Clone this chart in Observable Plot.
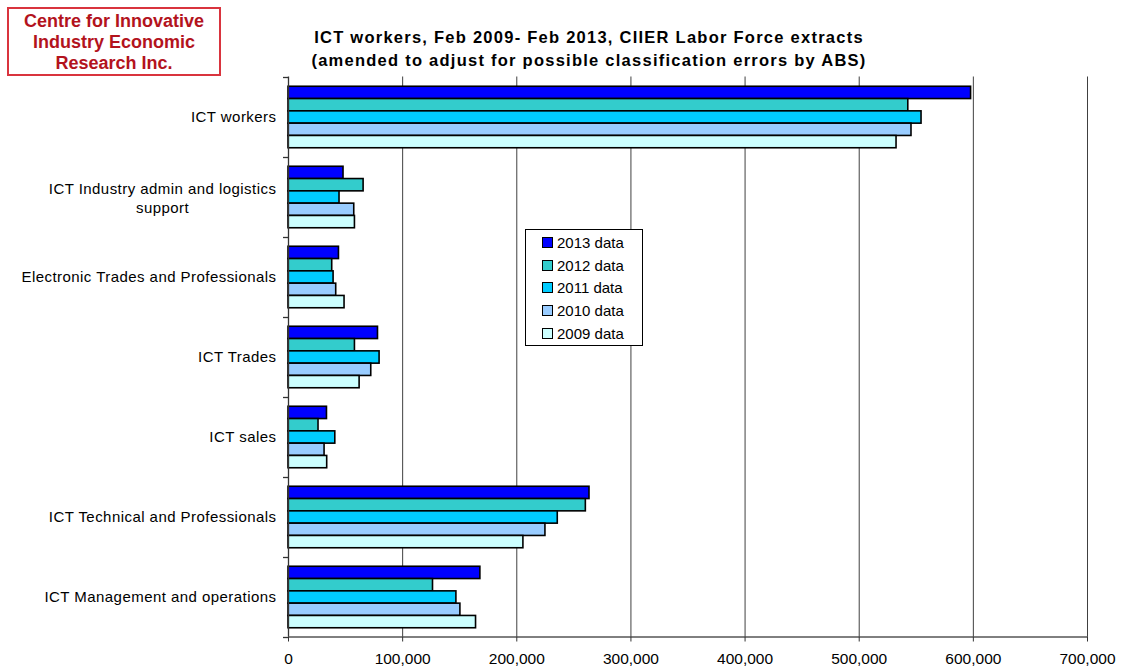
<!DOCTYPE html>
<html>
<head>
<meta charset="utf-8">
<script src="https://cdn.jsdelivr.net/npm/d3@7"></script>
<script src="https://cdn.jsdelivr.net/npm/@observablehq/plot@0.6"></script>
<style>
  html, body { margin: 0; padding: 0; background: #fff; }
  #wrap { position: relative; width: 1122px; height: 668px; font-family: "Liberation Sans", Arial, sans-serif; }
  #chart { position: absolute; left: 0; top: 0; }
  #logo { position: absolute; left: 7px; top: 7px; width: 210px; height: 63px; border: 2px solid #d9343e;
          background: #fff; color: #b3131d; font-weight: bold; font-size: 18px; line-height: 21px; text-align: center; padding-top: 2px; box-sizing: content-box; }
  #title { position: absolute; left: 589px; top: 26px; transform: translateX(-50%); white-space: nowrap;
           font-weight: bold; font-size: 16.5px; letter-spacing: 1.25px; line-height: 22.5px; text-align: center; color: #000; }
  #legend { position: absolute; left: 525px; top: 229px; width: 118px; height: 117px; border: 1px solid #000; background: #fff;
            font-size: 15px; box-sizing: border-box; padding-top: 1px; }
  .lrow { height: 22.7px; display: flex; align-items: center; padding-left: 16px; }
  .sw { width: 9px; height: 9px; border: 1px solid #000; margin-right: 4px; }
</style>
</head>
<body>
<div id="wrap">
  <div id="chart"></div>
  <div id="logo">Centre for Innovative<br>Industry Economic<br>Research Inc.</div>
  <div id="title">ICT workers, Feb 2009- Feb 2013, CIIER Labor Force extracts<br>(amended to adjust for possible classification errors by ABS)</div>
  <div id="legend"></div>
</div>
<script>
// ---- data ----
const categories = [
  "ICT workers",
  "ICT Industry admin and logistics support",
  "Electronic Trades and Professionals",
  "ICT Trades",
  "ICT sales",
  "ICT Technical and Professionals",
  "ICT Management and operations"
];
const series = ["2013 data", "2012 data", "2011 data", "2010 data", "2009 data"];
const seriesColors = ["#0000ff", "#33cccc", "#00ccff", "#99ccff", "#ccffff"];
const data2013 = [598000, 48200, 44200, 78400, 33700, 263700, 168100];
const data2012 = [543000, 65800, 38300, 58200, 26300, 260500, 126600];
const data2011 = [554600, 44700, 39500, 79800, 41000, 235900, 147100];
const data2010 = [545800, 57600, 41800, 72500, 31600, 225100, 150600];
const data2009 = [532700, 58200, 49100, 62300, 33900, 205800, 164300];
const xTicks = [0, 100000, 200000, 300000, 400000, 500000, 600000, 700000];
const wrappedLabels = {"ICT Industry admin and logistics support": ["ICT Industry admin and logistics", "support"]};

const seriesValues = [data2013, data2012, data2011, data2010, data2009];

// ---- layout ----
const W = 1122, H = 668;
const mL = 288, mR = 35, mT = 76.5, mB = 31.5;
const step = (H - mT - mB) / categories.length;
const barH = 12.3;
const pad = (step - barH * series.length) / 2;
const labelFont = 15;
const labelSpacing = 0.45;

// measure first line of wrapped label to center lines on each other
const ctx = document.createElement("canvas").getContext("2d");
ctx.font = `${labelFont}px "Liberation Sans", Arial, sans-serif`;

const marks = [];
// gridlines
marks.push(Plot.ruleX(xTicks.slice(1), {stroke: "#404040", strokeWidth: 1}));
// bars
series.forEach((s, i) => {
  const rows = categories.map((c, j) => ({category: c, series: s, value: seriesValues[i][j]}));
  marks.push(Plot.barX(rows, {
    x: "value", y: "category",
    fill: seriesColors[i], stroke: "#000", strokeWidth: 1.6,
    insetTop: pad + i * barH, insetBottom: step - pad - (i + 1) * barH
  }));
});
// left axis line
marks.push(Plot.ruleX([0], {stroke: "#333", strokeWidth: 1.3}));
// category separator ticks
marks.push(Plot.ruleY(categories, {y: d => d, dy: -step / 2, dx: -5, insetRight: W - mL - mR - 5, stroke: "#333", strokeWidth: 1.3}));
marks.push(Plot.ruleY(categories.slice(-1), {y: d => d, dy: step / 2, dx: -5, insetRight: W - mL - mR - 5, stroke: "#333", strokeWidth: 1.3}));
// category labels
const single = categories.filter(c => !wrappedLabels[c]);
marks.push(Plot.text(single, {y: d => d, text: d => d, frameAnchor: "left", textAnchor: "end", dx: -12,
  fontSize: labelFont, fill: "#000"}));
for (const c of categories.filter(c => wrappedLabels[c])) {
  const lines = wrappedLabels[c];
  const w = ctx.measureText(lines[0]).width + labelSpacing * lines[0].length;
  marks.push(Plot.text([c], {y: d => d, text: () => lines.join("\n"), frameAnchor: "left", textAnchor: "middle",
    dx: -(12 + w / 2), lineHeight: 1.25, fontSize: labelFont, fill: "#000"}));
}

const chart = Plot.plot({
  width: W, height: H,
  marginLeft: mL, marginRight: mR, marginTop: mT, marginBottom: mB,
  style: {fontFamily: '"Liberation Sans", Arial, sans-serif', background: "transparent", color: "#000"},
  x: {domain: [0, 700000], ticks: xTicks, tickFormat: d3.format(","), tickSize: 5, tickPadding: 11,
      line: true, label: null},
  y: {type: "band", domain: categories, paddingInner: 0, paddingOuter: 0, axis: null},
  marks
});
document.getElementById("chart").appendChild(chart);

// style texts
d3.select(chart).selectAll("g[aria-label='text'] text").style("letter-spacing", labelSpacing + "px");
d3.select(chart).selectAll("g[aria-label='x-axis tick label']").attr("font-size", 15.5);
d3.select(chart).selectAll("g[aria-label='x-axis tick label'] text").attr("font-size", 15.5);
d3.select(chart).selectAll("g[aria-label='x-axis tick'], g[aria-label='x-axis tick'] path").attr("stroke", "#333");

// legend
const leg = document.getElementById("legend");
series.forEach((s, i) => {
  const row = document.createElement("div");
  row.className = "lrow";
  const sw = document.createElement("div");
  sw.className = "sw";
  sw.style.background = seriesColors[i];
  row.appendChild(sw);
  row.appendChild(document.createTextNode(s));
  leg.appendChild(row);
});
</script>
</body>
</html>
